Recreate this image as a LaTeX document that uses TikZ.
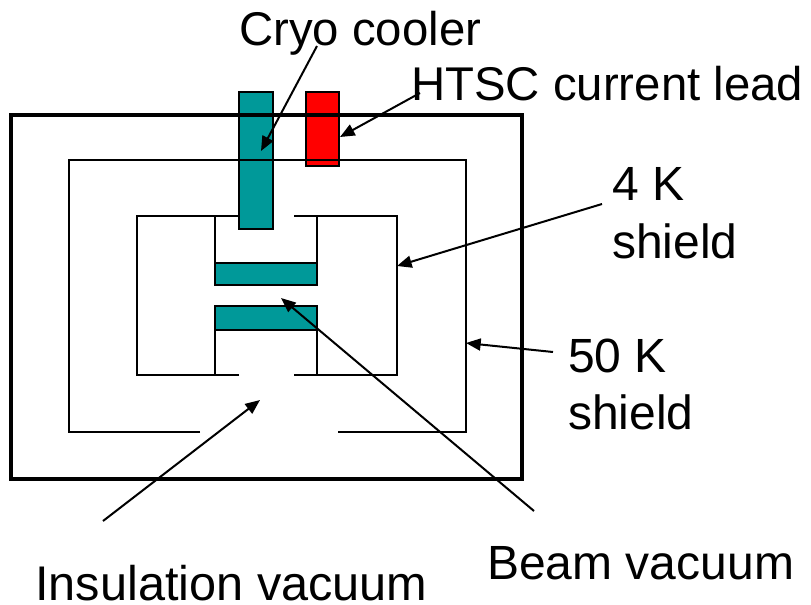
\documentclass[tikz,border=0pt]{standalone}
\usepackage{fontspec}
\setmainfont{Liberation Sans}
\usetikzlibrary{arrows.meta}
\definecolor{teal}{RGB}{0,153,153}
\tikzset{
  x=0.75pt,y=-0.75pt,
  wall/.style={line width=1.4pt,draw=black,line cap=butt,line join=miter},
  outerwall/.style={line width=3pt,draw=black},
  block/.style={draw=black,line width=1.4pt,inner sep=0pt,outer sep=0pt,anchor=north west},
  lbl/.style={inner sep=0pt,align=left},
  small/.style={font=\fontsize{35.5pt}{43.5pt}\selectfont},
  large/.style={font=\fontsize{36.5pt}{43.5pt}\selectfont},
  shieldlbl/.style={font=\fontsize{36pt}{42.5pt}\selectfont},
  pointer/.style={line width=1.5pt,-{Triangle[length=11pt,width=9pt]},shorten >=0pt}
}
\begin{document}
\begin{tikzpicture}
\useasboundingbox (0,0) rectangle (811,604);
\node[draw=black,line width=3pt,inner sep=0pt,outer sep=0pt,anchor=north west,minimum width=511*0.75pt,minimum height=364*0.75pt] (outer) at (11,115) {};
% shields
\coordinate (s50a) at (200,432);
\coordinate (s50b) at (338,432);
\draw[wall] (s50a) -| (69,160) -- (466,160) |- (s50b);
\coordinate (s4a) at (239,375);
\coordinate (s4b) at (294,375);
\coordinate (s4c) at (294,216);
\coordinate (s4d) at (239,216);
\draw[wall] (s4a) -| (137,216) -- (s4d);
\draw[wall] (s4b) -| (397,216) -- (s4c);
% blocks
\node[block,fill=teal,minimum width=34*0.75pt,minimum height=137*0.75pt] (cooler) at (239,92) {};
\node[block,fill=red,minimum width=33*0.75pt,minimum height=74*0.75pt] (lead) at (306,92) {};
\node[block,fill=teal,minimum width=102*0.75pt,minimum height=22*0.75pt] (beamtop) at (215,263) {};
\node[block,fill=teal,minimum width=102*0.75pt,minimum height=24*0.75pt] (beambot) at (215,306) {};
\draw[outerwall] (239,115) -- (273,115) (306,115) -- (339,115);
\draw[wall] (239,160) -- (273,160) (306,160) -- (339,160);
\draw[wall] (215,216) -- (beamtop.north west);
\draw[wall] (317,216) -- (beamtop.north east);
\draw[wall] (beambot.south west) -- (215,375);
\draw[wall] (beambot.south east) -- (317,375);
% labels
\node[lbl,small,anchor=base west] (tcryo) at (239,45) {Cryo cooler};
\node[lbl,small,anchor=base west] (thtsc) at (411,100) {HTSC current lead};
\node[lbl,shieldlbl,anchor=north west] (t4k) at (612,167) {4 K\\[1pt]shield};
\node[lbl,shieldlbl,anchor=north west] (t50k) at (568,339) {50 K\\shield};
\node[lbl,shieldlbl,anchor=base west] (tbeam) at (487,579) {Beam vacuum};
\node[lbl,large,anchor=base west] (tins) at (35,600) {Insulation vacuum};
% pointers
\coordinate (pcryoa) at (317,46);
\coordinate (pcryob) at (261,151);
\coordinate (phtsca) at (420,93);
\coordinate (phtscb) at (340,137);
\coordinate (p4a) at (602,204);
\coordinate (p4b) at (397,266);
\coordinate (p50a) at (553,352);
\coordinate (p50b) at (466,343);
\coordinate (pbeama) at (534,511);
\coordinate (pbeamb) at (281,298);
\coordinate (pinsa) at (103,521);
\coordinate (pinsb) at (260,400);
\draw[pointer] (pcryoa) -- (pcryob);
\draw[pointer] (phtsca) -- (phtscb);
\draw[pointer] (p4a) -- (p4b);
\draw[pointer] (p50a) -- (p50b);
\draw[pointer] (pbeama) -- (pbeamb);
\draw[pointer] (pinsa) -- (pinsb);
\end{tikzpicture}
\end{document}
